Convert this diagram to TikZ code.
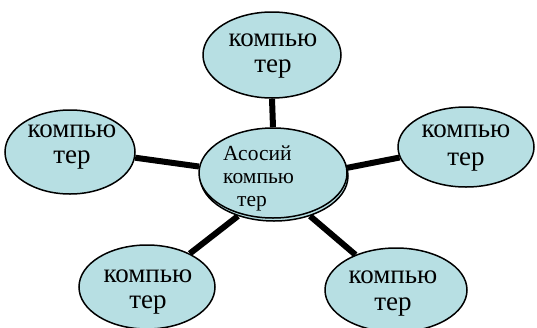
\documentclass[tikz,border=0pt]{standalone}
\usepackage{fontspec}
\setmainfont{Liberation Serif}
\usetikzlibrary{shapes.geometric}
\pgfdeclarelayer{background}
\pgfsetlayers{background,main}
\definecolor{nodefill}{RGB}{183,223,227}
\tikzset{
  bubble/.style={ellipse, draw=black, line width=1.5pt, fill=nodefill, inner sep=0pt},
  lbl/.style={inner sep=0pt, anchor=base, font=\fontsize{27}{27}\selectfont},
  clbl/.style={inner sep=0pt, anchor=base west, font=\fontsize{21.5}{23}\selectfont},
  conn/.style={line width=6pt, draw=black}
}
\begin{document}
\begin{tikzpicture}[x=1pt,y=-1pt]
\useasboundingbox (0,0) rectangle (537,327);
% outer ellipses
\node[bubble, minimum width=138pt, minimum height=86pt] (t) at (272,55) {};
\node[bubble, minimum width=130pt, minimum height=84pt] (l) at (70,152) {};
\node[bubble, minimum width=136pt, minimum height=80pt] (r) at (466,147) {};
\node[bubble, minimum width=136pt, minimum height=84pt] (bl) at (147,287) {};
\node[bubble, minimum width=142pt, minimum height=84pt] (br) at (396,290) {};
% centre ellipse with shadow outline
\node[bubble, minimum width=148pt, minimum height=90pt] (cs) at (274,176) {};
\node[bubble, minimum width=148pt, minimum height=90pt] (c) at (273,173) {};
% connectors
\begin{pgfonlayer}{background}
\draw[conn] (c.north) -- (t.south);
\draw[conn] (c.175) -- (l.355);
\draw[conn] (c.4) -- (r.189);
\draw[conn] (cs.228) -- (bl.38);
\draw[conn] (cs.312) -- (br.139);
\end{pgfonlayer}
% labels
\node[lbl] (t1) at (273,46) {компью};
\node[lbl] (t2) at (273,72) {тер};
\node[lbl] (l1) at (72,137) {компью};
\node[lbl] (l2) at (72,163) {тер};
\node[lbl] (r1) at (466,137) {компью};
\node[lbl] (r2) at (466,165) {тер};
\node[lbl] (bl1) at (148,282) {компью};
\node[lbl] (bl2) at (148,308) {тер};
\node[lbl] (br1) at (393,283) {компью};
\node[lbl] (br2) at (393,310) {тер};
\node[clbl] (c1) at (223,160) {Асосий};
\node[clbl] (c2) at (223,183) {компью};
\node[clbl] (c3) at (237,206) {тер};
\end{tikzpicture}
\end{document}
